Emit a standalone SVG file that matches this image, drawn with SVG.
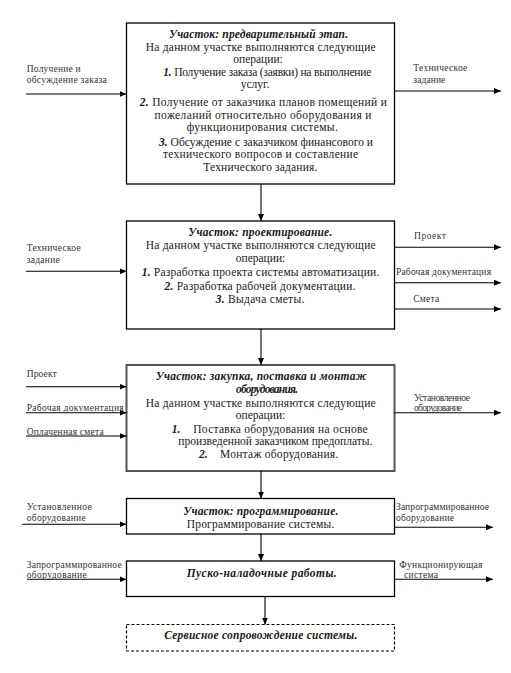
<svg xmlns="http://www.w3.org/2000/svg" width="511" height="673" viewBox="0 0 511 673" font-family="'Liberation Serif', 'DejaVu Serif', serif">
<defs>
<marker id="ah" markerWidth="7" markerHeight="6" refX="7" refY="3" orient="auto" markerUnits="userSpaceOnUse">
<path d="M0,0 L7,3 L0,6 Z" fill="#000"/>
</marker>
<style>
text{font-family:'Liberation Serif','DejaVu Serif',serif}
.box{fill:#fff;stroke:#000;stroke-width:1.3}
.box3{fill:#fff;stroke:#555;stroke-width:2}
.dash{fill:#fff;stroke:#000;stroke-width:1.2;stroke-dasharray:3 2}
.t{font-size:11.5px;fill:#1a1a1a;text-anchor:middle}
.ts{font-size:11.5px;fill:#1a1a1a}
.b{font-weight:bold;font-style:italic}
.lab{font-size:9.5px;fill:#333}
.c{stroke:#000;stroke-width:1.1;fill:none;marker-end:url(#ah)}
</style>
</defs>
<rect width="511" height="673" fill="#fff"/>

<g id="n1">
<rect class="box" x="126.5" y="23" width="268" height="161"/>
<text class="t b" x="258.5" y="38" textLength="179">Участок: предварительный этап.</text>
<text class="t" x="260.7" y="50.5" textLength="230">На данном участке выполняются следующие</text>
<text class="t" x="258" y="63">операции:</text>
<text class="t" x="267.3" y="75.5" textLength="208"><tspan class="b">1.</tspan> Получение заказа (заявки) на выполнение</text>
<text class="t" x="255" y="88">услуг.</text>
<text class="t" x="263.3" y="105.7" textLength="247"><tspan class="b">2.</tspan> Получение от заказчика планов помещений и</text>
<text class="t" x="263" y="118.5" textLength="217">пожеланий относительно оборудования и</text>
<text class="t" x="262.3" y="131.3" textLength="151">функционирования системы.</text>
<text class="t" x="266" y="145.5" textLength="214"><tspan class="b">3.</tspan> Обсуждение с заказчиком финансового и</text>
<text class="t" x="260.5" y="158" textLength="195">технического вопросов и составление</text>
<text class="t" x="260.3" y="170.7" textLength="114">Технического задания.</text>
</g>

<g id="n2">
<rect class="box" x="126.5" y="221" width="268" height="108"/>
<text class="t b" x="260.3" y="236.3" textLength="144">Участок: проектирование.</text>
<text class="t" x="260.7" y="249" textLength="230">На данном участке выполняются следующие</text>
<text class="t" x="260.5" y="261.8">операции:</text>
<text class="t" x="260.5" y="276.3" textLength="237.6"><tspan class="b">1.</tspan> Разработка проекта системы автоматизации.</text>
<text class="t" x="260" y="289.7" textLength="191"><tspan class="b">2.</tspan> Разработка рабочей документации.</text>
<text class="t" x="260" y="303" textLength="88.6"><tspan class="b">3.</tspan> Выдача сметы.</text>
</g>

<g id="n3">
<rect class="box3" x="126.5" y="365" width="268" height="106"/>
<text class="t b" x="261.2" y="380" textLength="211">Участок: закупка, поставка и монтаж</text>
<text class="t b" x="267" y="392.7" textLength="62">оборудования.</text>
<text class="t" x="260.7" y="406.7" textLength="230">На данном участке выполняются следующие</text>
<text class="t" x="260.5" y="419.3">операции:</text>
<text class="ts b" x="171.7" y="432.5">1.</text>
<text class="ts" x="193.3" y="432.5" textLength="174.4">Поставка оборудования на основе</text>
<text class="t" x="275.3" y="445.3" textLength="194">произведенной заказчиком предоплаты.</text>
<text class="ts b" x="199" y="458">2.</text>
<text class="ts" x="220" y="458" textLength="118.3">Монтаж оборудования.</text>
</g>

<g id="n4">
<rect class="box" x="126.5" y="498.5" width="268" height="35.5"/>
<text class="t b" x="260.8" y="514.8" textLength="155">Участок: программирование.</text>
<text class="t" x="260.5" y="527.5" textLength="147.6">Программирование системы.</text>
</g>

<g id="n5">
<rect class="box" x="126.5" y="561" width="268" height="35.5"/>
<text class="t b" x="261.7" y="577.3" textLength="150">Пуско-наладочные работы.</text>
</g>

<g id="n6">
<rect class="dash" x="126.5" y="624.5" width="268" height="26.5"/>
<text class="t b" x="260.8" y="639.3" textLength="193">Сервисное сопровождение системы.</text>
</g>

<g id="connectors">
<line class="c" x1="261" y1="184" x2="261" y2="221"/>
<line class="c" x1="261" y1="329" x2="261" y2="365"/>
<line class="c" x1="261" y1="471" x2="261" y2="498.5"/>
<line class="c" x1="261" y1="534" x2="261" y2="561"/>
<line class="c" x1="265" y1="596.5" x2="265" y2="624.5"/>

<line class="c" x1="26" y1="94" x2="126.5" y2="94"/>
<line class="c" x1="394.5" y1="91" x2="501" y2="91"/>
<line class="c" x1="26" y1="271.3" x2="126.5" y2="271.3"/>
<line class="c" x1="394.5" y1="247.3" x2="501" y2="247.3"/>
<line class="c" x1="394.5" y1="282.7" x2="501" y2="282.7"/>
<line class="c" x1="394.5" y1="309" x2="501" y2="309"/>
<line class="c" x1="26" y1="386.7" x2="126.5" y2="386.7"/>
<line class="c" x1="26" y1="412.7" x2="126.5" y2="412.7"/>
<line class="c" x1="26" y1="436" x2="126.5" y2="436"/>
<line class="c" x1="394.5" y1="412.7" x2="501" y2="412.7"/>
<line class="c" x1="22" y1="524.3" x2="126.5" y2="524.3"/>
<line class="c" x1="394.5" y1="527.3" x2="493" y2="527.3"/>
<line class="c" x1="27" y1="579.3" x2="126.5" y2="579.3"/>
<line class="c" x1="394.5" y1="579.3" x2="493" y2="579.3"/>

<text class="lab" x="26.7" y="72" textLength="54">Получение и</text>
<text class="lab" x="26.7" y="83" textLength="80">обсуждение заказа</text>
<text class="lab" x="413.3" y="71" textLength="54">Техническое</text>
<text class="lab" x="413.3" y="83" textLength="32">задание</text>

<text class="lab" x="26.7" y="250.5" textLength="54">Техническое</text>
<text class="lab" x="26.7" y="263" textLength="33">задание</text>
<text class="lab" x="414" y="238.5" textLength="32">Проект</text>
<text class="lab" x="396" y="274.5" textLength="95">Рабочая документация</text>
<text class="lab" x="413.3" y="302" textLength="26">Смета</text>

<text class="lab" x="26.7" y="377" textLength="30">Проект</text>
<text class="lab" x="26.7" y="411" textLength="97">Рабочая документация</text>
<text class="lab" x="26.7" y="434.5" textLength="77">Оплаченная смета</text>
<text class="lab" x="414" y="401" textLength="56">Установленное</text>
<text class="lab" x="414" y="411" textLength="48">оборудование</text>

<text class="lab" x="26.7" y="509.5" textLength="65">Установленное</text>
<text class="lab" x="26.7" y="521" textLength="59">оборудование</text>
<text class="lab" x="396" y="510" textLength="93">Запрограммированное</text>
<text class="lab" x="396" y="521" textLength="58">оборудование</text>

<text class="lab" x="26.7" y="567.5" textLength="95">Запрограммированное</text>
<text class="lab" x="26.7" y="578" textLength="60">оборудование</text>
<text class="lab" x="399.3" y="567.5" textLength="83">Функционирующая</text>
<text class="lab" x="404" y="578" textLength="34">система</text>
</g>
</svg>
